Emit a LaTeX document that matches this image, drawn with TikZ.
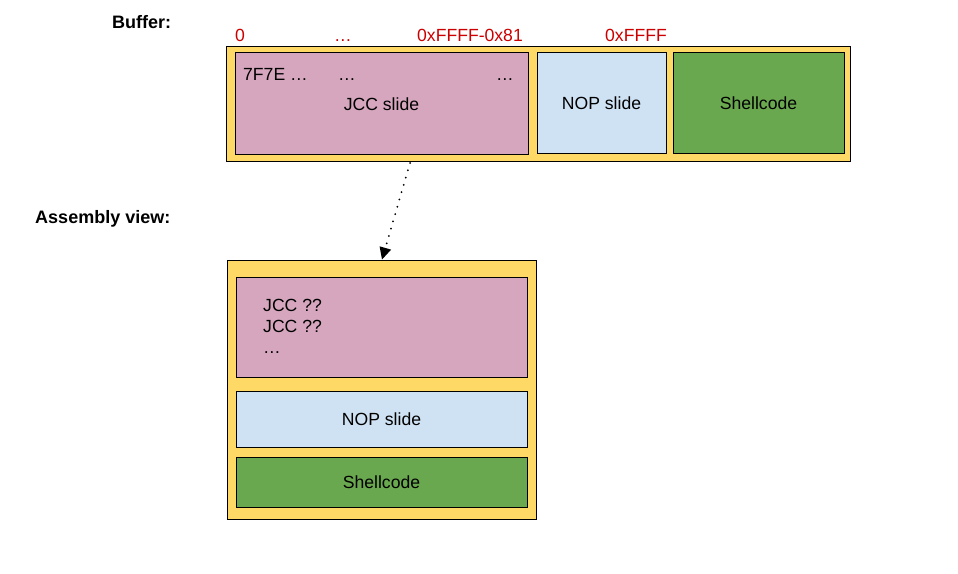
\documentclass[tikz,border=0pt]{standalone}
\usepackage{fontspec}
\setmainfont{Liberation Sans}
\usetikzlibrary{arrows.meta}
\definecolor{bufyellow}{HTML}{FFD966}
\definecolor{jccpink}{HTML}{D5A6BD}
\definecolor{nopblue}{HTML}{CFE2F3}
\definecolor{shellgreen}{HTML}{6AA84F}
\definecolor{addrred}{HTML}{CC0000}
\tikzset{
  blk/.style={draw=black, line width=1pt, inner sep=0pt, rectangle},
  lbl/.style={font=\fontsize{17.6}{21}\selectfont, inner sep=0pt},
  addr/.style={font=\fontsize{17.6}{21}\selectfont, text=addrred, inner sep=0pt},
  head/.style={font=\fontsize{18}{21}\selectfont\bfseries, inner sep=0pt},
  link/.style={line width=2pt, line cap=round, dash pattern=on 0pt off 7.6pt,
    -{Triangle[length=12pt,width=12pt,line width=0pt]}}
}
\begin{document}
\begin{tikzpicture}[x=1pt,y=-1pt]
\useasboundingbox (0,0) rectangle (958,573);
% headings
\node[head, anchor=base west] (hbuf) at (112,28) {Buffer:};
\node[head, anchor=base east] (hasm) at (170.5,223) {Assembly view:};
% address labels
\node[addr, anchor=base] (a0) at (240,41) {0};
\node[addr, anchor=base] (a1) at (343,41) {\dots};
\node[addr, anchor=base] (a2) at (470,41) {0xFFFF-0x81};
\node[addr, anchor=base] (a3) at (636,41) {0xFFFF};
% buffer row
\node[blk, fill=bufyellow, minimum width=624pt, minimum height=115pt] (buf) at (538,103.5) {};
\node[blk, fill=jccpink, minimum width=293pt, minimum height=102pt] (jccA) at (381.5,103) {};
\node[blk, fill=nopblue, minimum width=129pt, minimum height=101pt, lbl] (nopA) at (601.5,103) {NOP slide};
\node[blk, fill=shellgreen, minimum width=171pt, minimum height=101pt, lbl] (shA) at (758.5,103) {Shellcode};
\node[lbl, anchor=base west] (b1) at (243,80) {7F7E \dots};
\node[lbl, anchor=base] (b2) at (347,80) {\dots};
\node[lbl, anchor=base] (b3) at (505,80) {\dots};
\node[lbl, anchor=base] (jccAt) at (381.5,110) {JCC slide};
% assembly view
\node[blk, fill=bufyellow, minimum width=309pt, minimum height=259pt] (asm) at (381.5,389.5) {};
\node[blk, fill=jccpink, minimum width=291pt, minimum height=100pt] (jccB) at (381.5,327) {};
\node[blk, fill=nopblue, minimum width=291pt, minimum height=56pt, lbl] (nopB) at (381.5,419) {NOP slide};
\node[blk, fill=shellgreen, minimum width=291pt, minimum height=50pt, lbl] (shB) at (381.5,482) {Shellcode};
\node[lbl, anchor=base west] (c1) at (263,311) {JCC ??};
\node[lbl, anchor=base west] (c2) at (263,332) {JCC ??};
\node[lbl, anchor=base west] (c3) at (263,353) {\dots};
% connector
\coordinate (arrS) at (410,163);
\coordinate (arrE) at (382,259.5);
\draw[link] (arrS) -- (arrE);
\end{tikzpicture}
\end{document}
